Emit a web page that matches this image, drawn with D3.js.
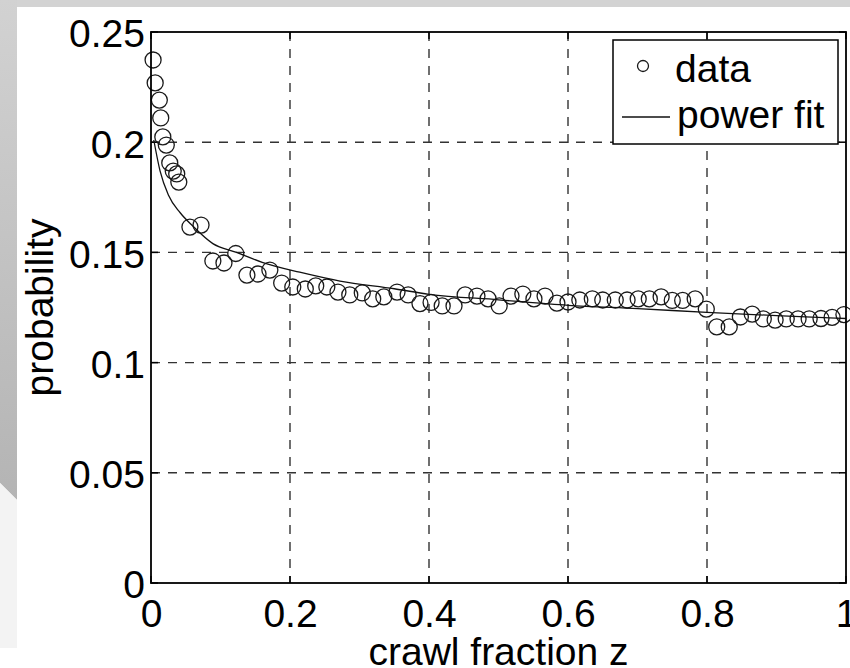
<!DOCTYPE html>
<html lang="en">
<head>
<meta charset="UTF-8">
<title>crawl fraction vs probability</title>
<script src="https://cdn.jsdelivr.net/npm/d3@7"></script>
<style>
    html, body { margin: 0; padding: 0; background: #fff; }
    svg { display: block; font-family: "Liberation Sans", Arial, Helvetica, sans-serif; }
    .tick-label { font-size: 39px; fill: #000; }
    .axis-label { font-size: 39px; fill: #000; }
</style>
</head>
<body>
<svg id="chart" width="850" height="668"></svg>
<script>
// measured points (crawl fraction z -> probability)
const crawlFraction = [
    0.003, 0.006, 0.012, 0.014, 0.017, 0.022, 0.027, 0.032, 0.037, 0.040,
    0.056, 0.072, 0.089, 0.105, 0.122, 0.138, 0.154, 0.171, 0.188, 0.204,
    0.222, 0.237, 0.253, 0.269, 0.286, 0.304, 0.319, 0.335, 0.354, 0.370,
    0.387, 0.403, 0.419, 0.436, 0.452, 0.469, 0.485, 0.501, 0.518, 0.535,
    0.551, 0.567, 0.584, 0.600, 0.617, 0.635, 0.650, 0.668, 0.685, 0.701,
    0.717, 0.734, 0.750, 0.765, 0.783, 0.799, 0.814, 0.832, 0.848, 0.865,
    0.881, 0.898, 0.914, 0.931, 0.947, 0.964, 0.980, 0.997
];
const probability = [
    0.2373, 0.2269, 0.2191, 0.2110, 0.2024, 0.1987, 0.1906, 0.1869, 0.1856, 0.1819,
    0.1615, 0.1624, 0.1461, 0.1452, 0.1495, 0.1397, 0.1402, 0.1420, 0.1361, 0.1343,
    0.1334, 0.1348, 0.1343, 0.1320, 0.1307, 0.1316, 0.1289, 0.1298, 0.1320, 0.1307,
    0.1268, 0.1273, 0.1257, 0.1257, 0.1307, 0.1302, 0.1289, 0.1257, 0.1302, 0.1311,
    0.1289, 0.1302, 0.1270, 0.1275, 0.1284, 0.1289, 0.1284, 0.1284, 0.1284, 0.1289,
    0.1289, 0.1298, 0.1282, 0.1282, 0.1289, 0.1243, 0.1162, 0.1162, 0.1207, 0.1220,
    0.1198, 0.1193, 0.1198, 0.1198, 0.1198, 0.1200, 0.1205, 0.1218
];

// power fit curve
const fitZ = [0.004, 0.013, 0.025, 0.042, 0.06, 0.089, 0.123, 0.16, 0.214, 0.272,
              0.35, 0.4, 0.5, 0.6, 0.7, 0.8, 0.9, 1.0];
const fitP = [0.201, 0.187, 0.176, 0.168, 0.162, 0.154, 0.150, 0.1455, 0.141, 0.137,
              0.1335, 0.131, 0.1285, 0.126, 0.1245, 0.1228, 0.1213, 0.1200];

// ticks
const xTicks = [0, 0.2, 0.4, 0.6, 0.8, 1];
const xTickLabels = ['0', '0.2', '0.4', '0.6', '0.8', '1'];
const yTicks = [0, 0.05, 0.1, 0.15, 0.2, 0.25];
const yTickLabels = ['0', '0.05', '0.1', '0.15', '0.2', '0.25'];

const legendLabels = ['data', 'power fit'];

function draw() {
    const svg = d3.select('#chart');
    const W = 850, H = 668;
    const plot = { left: 151, right: 846, top: 32, bottom: 583 };

    // slide-like background
    const defs = svg.append('defs');
    const grad = defs.append('linearGradient')
        .attr('id', 'strip').attr('x1', 0).attr('y1', 0).attr('x2', 0).attr('y2', 1);
    grad.append('stop').attr('offset', '0%').attr('stop-color', '#d2d2d2');
    grad.append('stop').attr('offset', '100%').attr('stop-color', '#b4b4b4');

    svg.append('rect').attr('width', W).attr('height', H).attr('fill', '#fff');
    svg.append('rect').attr('width', W).attr('height', 7).attr('fill', '#d3d3d3');
    svg.append('polygon')
        .attr('points', '0,0 17,0 17,500 0,483')
        .attr('fill', 'url(#strip)');
    svg.append('polygon')
        .attr('points', '0,483 17,500 17,648 0,648')
        .attr('fill', '#f3f3f3');

    const x = d3.scaleLinear().domain([0, 1]).range([plot.left, plot.right]);
    const y = d3.scaleLinear().domain([0, 0.25]).range([plot.bottom, plot.top]);

    // dashed grid
    const grid = svg.append('g')
        .attr('stroke', '#333')
        .attr('stroke-width', 1.4)
        .attr('stroke-dasharray', '9,8');
    grid.selectAll('.x-grid')
        .data(xTicks.slice(1, -1))
        .enter().append('line')
        .attr('x1', d => x(d)).attr('x2', d => x(d))
        .attr('y1', plot.top).attr('y2', plot.bottom);
    grid.selectAll('.y-grid')
        .data(yTicks.slice(1, -1))
        .enter().append('line')
        .attr('x1', plot.left).attr('x2', plot.right)
        .attr('y1', d => y(d)).attr('y2', d => y(d));

    // axes (labels only, ticks go inward)
    const xAxis = svg.append('g')
        .attr('transform', `translate(0,${plot.bottom})`)
        .call(d3.axisBottom(x).tickValues(xTicks).tickSize(0).tickPadding(16)
            .tickFormat((d, i) => xTickLabels[i]));
    xAxis.select('.domain').remove();
    xAxis.selectAll('text').attr('class', 'tick-label').attr('font-size', null).attr('font-family', null);

    const yAxis = svg.append('g')
        .attr('transform', `translate(${plot.left},0)`)
        .call(d3.axisLeft(y).tickValues(yTicks).tickSize(0).tickPadding(6)
            .tickFormat((d, i) => yTickLabels[i]));
    yAxis.select('.domain').remove();
    yAxis.selectAll('text').attr('class', 'tick-label').attr('dy', '0.38em');
    yAxis.attr('font-size', null).attr('font-family', null);
    xAxis.attr('font-size', null).attr('font-family', null);

    // inward tick marks on all four sides
    const tickLen = 7;
    const ticks = svg.append('g').attr('stroke', '#000').attr('stroke-width', 1.5);
    xTicks.forEach(t => {
        ticks.append('line').attr('x1', x(t)).attr('x2', x(t))
            .attr('y1', plot.bottom).attr('y2', plot.bottom - tickLen);
        ticks.append('line').attr('x1', x(t)).attr('x2', x(t))
            .attr('y1', plot.top).attr('y2', plot.top + tickLen);
    });
    yTicks.forEach(t => {
        ticks.append('line').attr('x1', plot.left).attr('x2', plot.left + tickLen)
            .attr('y1', y(t)).attr('y2', y(t));
        ticks.append('line').attr('x1', plot.right).attr('x2', plot.right - tickLen)
            .attr('y1', y(t)).attr('y2', y(t));
    });

    // data circles
    const points = crawlFraction.map((z, i) => ({ z: z, p: probability[i] }));
    svg.append('g').selectAll('circle')
        .data(points)
        .enter().append('circle')
        .attr('cx', d => x(d.z))
        .attr('cy', d => y(d.p))
        .attr('r', 8)
        .attr('fill', 'none')
        .attr('stroke', '#1a1a1a')
        .attr('stroke-width', 1.3);

    // power fit line
    const fit = fitZ.map((z, i) => ({ z: z, p: fitP[i] }));
    const line = d3.line()
        .x(d => x(d.z))
        .y(d => y(d.p))
        .curve(d3.curveMonotoneX);
    svg.append('path')
        .datum(fit)
        .attr('d', line)
        .attr('fill', 'none')
        .attr('stroke', '#111')
        .attr('stroke-width', 1.3);

    // frame
    svg.append('rect')
        .attr('x', plot.left).attr('y', plot.top)
        .attr('width', plot.right - plot.left)
        .attr('height', plot.bottom - plot.top)
        .attr('fill', 'none')
        .attr('stroke', '#000')
        .attr('stroke-width', 1.8);

    // axis titles
    svg.append('text')
        .attr('class', 'axis-label')
        .attr('x', (plot.left + plot.right) / 2)
        .attr('y', 665)
        .attr('text-anchor', 'middle')
        .text('crawl fraction z');

    svg.append('text')
        .attr('class', 'axis-label')
        .attr('transform', `translate(53,${(plot.top + plot.bottom) / 2}) rotate(-90)`)
        .attr('text-anchor', 'middle')
        .text('probability');

    // legend
    const legend = svg.append('g');
    legend.append('rect')
        .attr('x', 613).attr('y', 40)
        .attr('width', 225).attr('height', 104)
        .attr('fill', '#fff')
        .attr('stroke', '#000')
        .attr('stroke-width', 1.5);
    legend.append('circle')
        .attr('cx', 643).attr('cy', 66).attr('r', 5.5)
        .attr('fill', 'none').attr('stroke', '#1a1a1a').attr('stroke-width', 1.3);
    legend.append('text')
        .attr('class', 'axis-label')
        .attr('x', 675).attr('y', 82)
        .text(legendLabels[0]);
    legend.append('line')
        .attr('x1', 622).attr('x2', 670)
        .attr('y1', 117).attr('y2', 117)
        .attr('stroke', '#111').attr('stroke-width', 1.3);
    legend.append('text')
        .attr('class', 'axis-label')
        .attr('x', 677).attr('y', 128)
        .text(legendLabels[1]);
}

draw();
</script>
</body>
</html>
